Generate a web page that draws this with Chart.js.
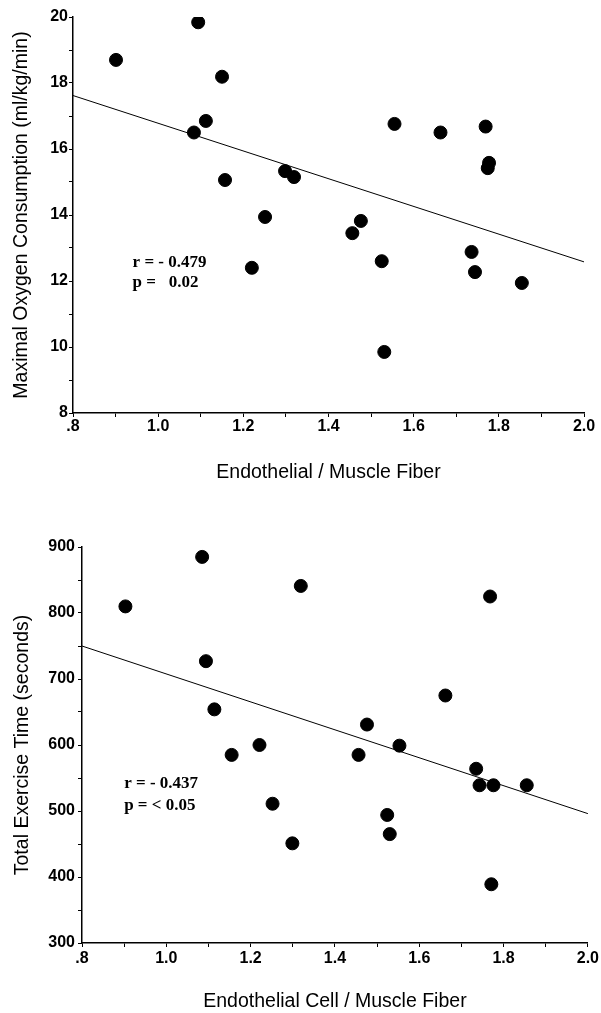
<!DOCTYPE html>
<html>
<head>
<meta charset="utf-8">
<script src="https://cdn.jsdelivr.net/npm/chart.js@4"></script>
<style>
  html, body { margin: 0; padding: 0; background: #fff; }
  .wrap { position: absolute; left: 0; width: 601px; }
</style>
</head>
<body>
<div class="wrap" style="top:0;height:500px;"><canvas id="c1" width="601" height="500" style="width:601px;height:500px;"></canvas></div>
<div class="wrap" style="top:500px;height:513px;"><canvas id="c2" width="601" height="513" style="width:601px;height:513px;"></canvas></div>
<script>
// ---- Data: top panel (VO2 max vs endothelial/muscle fiber) ----
const topX = [0.901, 1.094, 1.150, 1.112, 1.084, 1.157, 1.251, 1.220, 1.298, 1.319, 1.456,
              1.476, 1.525, 1.531, 1.555, 1.663, 1.769, 1.777, 1.774, 1.736, 1.744, 1.854];
const topY = [18.70, 19.84, 18.19, 16.85, 16.50, 15.06, 13.94, 12.40, 15.33, 15.15, 13.45,
              13.82, 12.60, 9.85, 16.76, 16.50, 16.68, 15.58, 15.42, 12.88, 12.27, 11.94];
const topFitX = [0.8, 2.0];
const topFitY = [17.62, 12.58];
const topStats = ["r = - 0.479", "p =   0.02"];

// ---- Data: bottom panel (exercise time vs endothelial cell/muscle fiber) ----
const botX = [0.903, 1.085, 1.094, 1.114, 1.155, 1.221, 1.252, 1.299, 1.319, 1.456, 1.476,
              1.553, 1.524, 1.530, 1.662, 1.768, 1.735, 1.743, 1.776, 1.855, 1.771];
const botY = [810, 885, 727, 654, 585, 600, 511, 451, 841, 585, 631,
              599, 494, 465, 675, 825, 564, 539, 539, 539, 389];
const botFitX = [0.8, 2.0];
const botFitY = [750, 496];
const botStats = ["r = - 0.437", "p = < 0.05"];

// ---- Tick labels ----
const xTickValues = [0.8, 1.0, 1.2, 1.4, 1.6, 1.8, 2.0];
const xTickLabels = [".8", "1.0", "1.2", "1.4", "1.6", "1.8", "2.0"];
const topYTickValues = [8, 10, 12, 14, 16, 18, 20];
const topYTickLabels = ["8", "10", "12", "14", "16", "18", "20"];
const botYTickValues = [300, 400, 500, 600, 700, 800, 900];
const botYTickLabels = ["300", "400", "500", "600", "700", "800", "900"];

const SANS = '"Liberation Sans", Arial, sans-serif';
const SERIF = '"Liberation Serif", "Times New Roman", serif';

function labelFor(values, labels, tol) {
  return function (v) {
    for (let i = 0; i < values.length; i++) {
      if (Math.abs(values[i] - v) < tol) return labels[i];
    }
    return '';
  };
}

const statsPlugin = {
  id: 'stats',
  afterDatasetsDraw(chart, args, opts) {
    if (!opts || !opts.lines) return;
    const { ctx, scales } = chart;
    const px = scales.x.getPixelForValue(opts.x);
    const py = scales.y.getPixelForValue(opts.y);
    ctx.save();
    ctx.font = 'bold 17px ' + SERIF;
    ctx.fillStyle = '#000';
    ctx.textBaseline = 'middle';
    ctx.textAlign = 'left';
    opts.lines.forEach((t, i) => ctx.fillText(t, px, py + i * opts.gap));
    ctx.restore();
  }
};

function makeChart(id, cfg) {
  const pts = cfg.xs.map((x, i) => ({ x: x, y: cfg.ys[i] }));
  const fit = cfg.fitX.map((x, i) => ({ x: x, y: cfg.fitY[i] }));
  return new Chart(document.getElementById(id), {
    type: 'scatter',
    data: {
      datasets: [
        {
          type: 'line',
          data: fit,
          borderColor: '#000',
          borderWidth: 1,
          pointRadius: 0,
          fill: false,
          order: 2
        },
        {
          data: pts,
          backgroundColor: '#000',
          borderColor: '#000',
          pointRadius: 6.5,
          pointHoverRadius: 6.5,
          order: 1
        }
      ]
    },
    options: {
      responsive: false,
      animation: false,
      events: [],
      layout: { padding: { top: cfg.padTop, right: cfg.padRight, left: 0, bottom: 0 } },
      plugins: {
        legend: { display: false },
        tooltip: { enabled: false },
        stats: { x: cfg.statX, y: cfg.statY, lines: cfg.stats, gap: cfg.statGap }
      },
      scales: {
        x: {
          type: 'linear',
          min: 0.8, max: 2.0,
          afterFit: (s) => { s.height = cfg.xHeight; },
          border: { display: true, color: '#000', width: 1.5 },
          grid: { drawOnChartArea: false, drawTicks: true, tickLength: 4, color: '#000', lineWidth: 1 },
          ticks: {
            stepSize: 0.1,
            autoSkip: false,
            maxRotation: 0,
            padding: cfg.xTickPad,
            color: '#000',
            font: { family: SANS, size: 16, weight: 'bold' },
            callback: labelFor(xTickValues, xTickLabels, 0.01)
          },
          title: {
            display: true,
            text: cfg.xTitle,
            color: '#000',
            font: { family: SANS, size: 19.5, weight: 'normal' },
            padding: { top: 0, bottom: cfg.xTitlePad }
          }
        },
        y: {
          type: 'linear',
          min: cfg.yMin, max: cfg.yMax,
          afterFit: (s) => { s.width = cfg.yWidth; },
          border: { display: true, color: '#000', width: 1.5 },
          grid: { drawOnChartArea: false, drawTicks: true, tickLength: 4, color: '#000', lineWidth: 1 },
          ticks: {
            stepSize: cfg.yStep,
            autoSkip: false,
            padding: cfg.yTickPad,
            color: '#000',
            font: { family: SANS, size: 16, weight: 'bold' },
            callback: labelFor(cfg.yTickValues, cfg.yTickLabels, cfg.yStep / 10)
          },
          title: {
            display: true,
            text: cfg.yTitle,
            color: '#000',
            font: { family: SANS, size: 19.5, weight: 'normal' },
            padding: { top: cfg.yTitlePad, bottom: 0 }
          }
        }
      }
    },
    plugins: [statsPlugin]
  });
}

makeChart('c1', {
  xs: topX, ys: topY, fitX: topFitX, fitY: topFitY,
  padTop: 17, padRight: 17, yWidth: 73, xHeight: 87,
  yMin: 8, yMax: 20, yStep: 1,
  yTickValues: topYTickValues, yTickLabels: topYTickLabels,
  xTickPad: 0, yTickPad: 1,
  xTitle: 'Endothelial / Muscle Fiber', xTitlePad: 16,
  yTitle: 'Maximal Oxygen Consumption (ml/kg/min)', yTitlePad: 10,
  stats: topStats, statX: 0.94, statY: 12.55, statGap: 20
});

makeChart('c2', {
  xs: botX, ys: botY, fitX: botFitX, fitY: botFitY,
  padTop: 47, padRight: 13, yWidth: 82, xHeight: 70,
  yMin: 300, yMax: 900, yStep: 50,
  yTickValues: botYTickValues, yTickLabels: botYTickLabels,
  xTickPad: 2, yTickPad: 3,
  xTitle: 'Endothelial Cell / Muscle Fiber', xTitlePad: 0,
  yTitle: 'Total Exercise Time (seconds)', yTitlePad: 11,
  stats: botStats, statX: 0.90, statY: 542, statGap: 22
});
</script>
</body>
</html>
